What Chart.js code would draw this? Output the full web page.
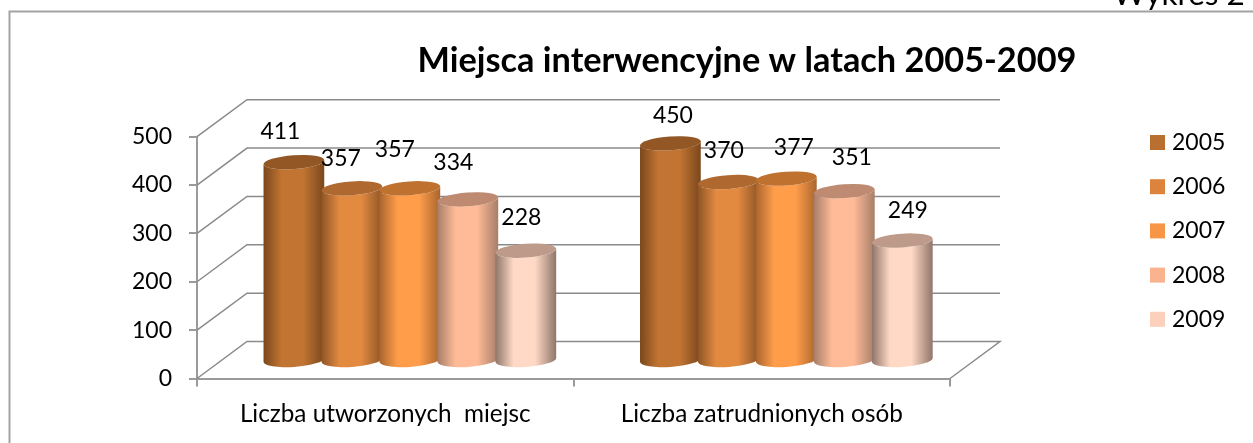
<!DOCTYPE html>
<html>
<head>
<meta charset="utf-8">
<style>html,body{margin:0;padding:0;background:#fff;overflow:hidden}canvas{display:block}</style>
<script src="https://cdn.jsdelivr.net/npm/chart.js@4"></script>
</head>
<body>
<canvas id="c" width="1253" height="443"></canvas>
<script>
const categories = ['Liczba utworzonych  miejsc', 'Liczba zatrudnionych osób'];
const seriesNames = ['2005', '2006', '2007', '2008', '2009'];
const s2005 = [411, 450];
const s2006 = [357, 370];
const s2007 = [357, 377];
const s2008 = [334, 351];
const s2009 = [228, 249];
const seriesValues = [s2005, s2006, s2007, s2008, s2009];
const yTicks = [0, 100, 200, 300, 400, 500];
const chartTitle = 'Miejsca interwencyjne w latach 2005-2009';
const cornerNote = 'Wykres 2';

const legendColors = ['#B96F30', '#DC843E', '#F79646', '#FAB38F', '#FCD0BA'];
const midColors    = ['#C27532', '#E38A41', '#FF9D4A', '#FFBB97', '#FFD9C6'];
const edgeColors   = ['#7A471D', '#8F5526', '#A9652E', '#A67E69', '#8F7569'];
const capColors    = ['#935726', '#AF682F', '#BF7130', '#BE8B72', '#BD9A89'];
// label offsets from the top of each cylinder, per series then per category
const labelDx = [[-13.5, 2.5], [-11, -4.5], [-15, 7.5], [-14.5, 7.5], [-4.5, 5.5]];
const labelDy = [[-31, -28], [-30, -31], [-39, -31.5], [-37, -34], [-33.6, -29.5]];

const FONT = 'Lato, Carlito, sans-serif';
const AXIS = '#9a9a9a', GRID = '#8a8a8a';
const DX = 50, DY = -37;          // depth of the 3D box
const BX = 24.6, BY = -17.5;      // cylinders stand mid-way through the depth

const scene = {
  id: 'scene',
  afterLayout(chart) {
    const t = chart.titleBlock;
    t.left = 347; t.right = 1147; t.top = 40; t.bottom = t.top + t.height;
  },
  beforeDraw(chart) {
    const c = chart.ctx;
    c.save();
    c.strokeStyle = '#a3a3a3'; c.lineWidth = 2;
    c.beginPath(); c.moveTo(9.5, 443); c.lineTo(9.5, 11.5); c.lineTo(1253, 11.5); c.stroke();
    c.fillStyle = '#000'; c.font = '400 31.5px ' + FONT;
    c.textAlign = 'left'; c.textBaseline = 'alphabetic';
    c.fillText(cornerNote, 1113, 5);
    c.restore();
  },
  beforeDatasetsDraw(chart) {
    const c = chart.ctx, y = chart.scales.y, a = chart.chartArea;
    c.save();
    c.strokeStyle = GRID; c.lineWidth = 1.5;
    yTicks.forEach(v => {
      const p = y.getPixelForValue(v);
      c.beginPath();
      c.moveTo(a.left, p); c.lineTo(a.left + DX, p + DY); c.lineTo(a.right + DX, p + DY);
      if (v === 0) c.lineTo(a.right, p);
      c.stroke();
    });
    c.restore();
  },
  beforeDatasetDraw() { return false; },
  afterDatasetsDraw(chart) {
    const c = chart.ctx;
    c.save();
    const rot = -4 * Math.PI / 180, ry = 6.9;
    chart.data.datasets.forEach((ds, i) => {
      chart.getDatasetMeta(i).data.forEach(bar => {
        const cx = bar.x + BX, top = bar.y + BY, base = bar.base + BY, rx = bar.width / 2;
        const g = c.createLinearGradient(cx - rx, 0, cx + rx, 0);
        g.addColorStop(0, edgeColors[i]);
        g.addColorStop(0.3, midColors[i]);
        g.addColorStop(0.65, midColors[i]);
        g.addColorStop(1, edgeColors[i]);
        c.fillStyle = g;
        c.beginPath();
        c.ellipse(cx, top, rx, ry, rot, Math.PI, 0, true);
        c.ellipse(cx, base, rx, ry, rot, 0, Math.PI, false);
        c.closePath();
        c.fill();
        c.fillStyle = capColors[i];
        c.beginPath();
        c.ellipse(cx, top, rx, ry, rot, 0, Math.PI * 2);
        c.fill();
      });
    });
    c.fillStyle = '#000'; c.font = '400 23px ' + FONT;
    c.textAlign = 'center'; c.textBaseline = 'middle';
    chart.data.datasets.forEach((ds, i) => {
      chart.getDatasetMeta(i).data.forEach((bar, j) => {
        c.fillText(String(ds.data[j]), bar.x + BX + labelDx[i][j], bar.y + BY + labelDy[i][j]);
      });
    });
    // legend
    c.textAlign = 'left';
    seriesNames.forEach((name, i) => {
      const cy = 142.5 + i * 44.2;
      c.fillStyle = legendColors[i];
      c.fillRect(1150, cy - 7.5, 15, 15);
      c.fillStyle = '#000';
      c.fillText(name, 1172, cy);
    });
    c.restore();
  }
};

new Chart(document.getElementById('c'), {
  type: 'bar',
  data: {
    labels: categories,
    datasets: seriesValues.map((v, i) => ({
      label: seriesNames[i], data: v, backgroundColor: legendColors[i]
    }))
  },
  plugins: [scene],
  options: {
    responsive: false,
    animation: false,
    layout: { padding: { left: 0, right: 303, top: 95.5, bottom: 0 } },
    datasets: { bar: { categoryPercentage: 0.77, barPercentage: 1.05 } },
    plugins: {
      legend: { display: false },
      tooltip: { enabled: false },
      title: {
        display: true, text: chartTitle, color: '#000', padding: 0,
        font: { family: FONT, size: 34.3, weight: '700', lineHeight: 1.2 }
      }
    },
    scales: {
      x: {
        afterFit(s) { s.height = 64.5; },
        grid: { offset: true, drawOnChartArea: false, color: AXIS, lineWidth: 2, tickLength: 8 },
        border: { color: AXIS, width: 2 },
        ticks: { color: '#000', padding: 13, maxRotation: 0, font: { family: FONT, size: 24.3 } }
      },
      y: {
        min: 0, max: 500,
        afterFit(s) { s.width = 197; },
        grid: { drawOnChartArea: false, color: AXIS, lineWidth: 2, tickLength: 8 },
        border: { color: AXIS, width: 2 },
        ticks: { color: '#000', padding: 17, stepSize: 100, font: { family: FONT, size: 23 } }
      }
    }
  }
});
</script>
</body>
</html>
